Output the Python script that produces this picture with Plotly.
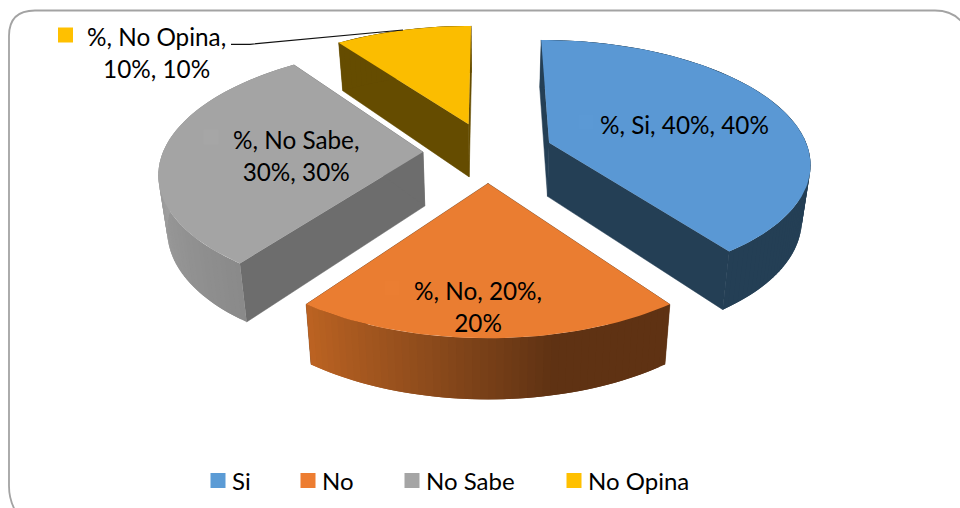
import math
import plotly.graph_objects as go

# ---- data ----
categories = ["Si", "No", "No Sabe", "No Opina"]
values = [40, 20, 30, 10]
legend_colors = ["#5B9BD5", "#ED7D31", "#A5A5A5", "#FFC000"]
top_colors = ["#5A98D4", "#EA7D31", "#A4A4A4", "#FBBD00"]
side_stops = [["#243F55", "#243F55"],
              ["#BC6322", "#8F4C1C", "#5F3213", "#5F3213"],
              ["#8A8A8A", "#A0A0A0", "#949494"],
              ["#654C00", "#654C00"]]
face_colors = ["#243F55", "#5F3213", "#6D6D6D", "#654C00"]
label_lines = ["%, Si, 40%, 40%", "%, No, 20%,<br>20%", "%, No Sabe,<br>30%, 30%", "%, No Opina,<br>10%, 10%"]

# ---- projection of the tilted pie ----
CX, CY, R, EXPLODE = 488, 152, 260, 65
TILT, PERSP = 0.465, 5.8e-4
FONT = "Lato"


def top_pt(u, v):
    s = 1 / (1 - PERSP * v)
    return CX + u * s, CY + TILT * v * s


def bottom_pt(u, v):
    x, y = top_pt(u, v)
    return CX + (x - CX) * 0.973, y + 54 + 0.022 * v


def hex_rgb(c):
    return [int(c[i:i + 2], 16) for i in (1, 3, 5)]


def mix(stops, t):
    p = t * (len(stops) - 1)
    i = min(int(p), len(stops) - 2)
    a, b = hex_rgb(stops[i]), hex_rgb(stops[i + 1])
    f = p - i
    return "rgb(%d,%d,%d)" % tuple(round(a[k] + (b[k] - a[k]) * f) for k in range(3))


fig = go.Figure()


def poly(pts, color, lw=0):
    fig.add_trace(go.Scatter(
        x=[p[0] for p in pts] + [pts[0][0]], y=[p[1] for p in pts] + [pts[0][1]],
        mode="lines", fill="toself", fillcolor=color,
        line=dict(color=color, width=lw), hoverinfo="skip", showlegend=False))


total = sum(values)
spans = {}
start = 0.0
for i, val in enumerate(values):
    spans[i] = (start, start + val / total * 2 * math.pi)
    start = spans[i][1]

# painter's order: far slices first
for i in [2, 3, 0, 1]:
    a0, a1 = spans[i]
    mid = (a0 + a1) / 2
    ou, ov = EXPLODE * math.sin(mid), -EXPLODE * math.cos(mid)
    n = max(12, int((a1 - a0) * 40))
    rim = [(ou + R * math.sin(a0 + (a1 - a0) * k / n), ov - R * math.cos(a0 + (a1 - a0) * k / n))
           for k in range(n + 1)]
    top_rim = [top_pt(*p) for p in rim]
    bot_rim = [bottom_pt(*p) for p in rim]
    # radial side faces
    poly([top_pt(ou, ov), top_rim[0], bot_rim[0], bottom_pt(ou, ov)], face_colors[i], 0.5)
    poly([top_pt(ou, ov), top_rim[-1], bot_rim[-1], bottom_pt(ou, ov)], face_colors[i], 0.5)
    # curved outer side, as overlapping strips so that no seams show
    for k in range(n):
        t = (k + 0.5) / n
        if i == 1:
            t = 1 - t
        e = min(k + 2, n)
        poly(top_rim[k:e + 1] + bot_rim[k:e + 1][::-1], mix(side_stops[i], t))
    # top face
    poly([top_pt(ou, ov)] + top_rim, top_colors[i])

# legend: one real legend per entry so each can sit where the reference has it
legend_x = [211, 301, 405, 567]
layout_legends = {}
for i, name in enumerate(categories):
    key = "legend" if i == 0 else f"legend{i + 1}"
    fig.add_trace(go.Scatter(x=[None], y=[None], mode="markers", name=name,
                             marker=dict(symbol="square", size=15, color=legend_colors[i]),
                             legend=key, showlegend=True))
    layout_legends[key] = dict(x=(legend_x[i] - 19) / 960, y=1 - 481 / 508, xanchor="left", yanchor="middle",
                               font=dict(family=FONT, size=24, color="#000000"),
                               bgcolor="rgba(0,0,0,0)", itemwidth=30, tracegroupgap=0)

label_pos = [(684, 124), (478, 306), (296, 155), (156, 52)]
annotations = [dict(x=x, y=y, xref="x", yref="y", text=t, showarrow=False,
                    font=dict(family=FONT, size=24.3, color="#000000"), align="center")
               for (x, y), t in zip(label_pos, label_lines)]

swatches = [(586, 122, "#5B99D5"), (392, 288, "#EB7E32"), (211, 137, "#A6A6A6"), (65.5, 35, "#FFC000")]
shapes = [dict(type="rect", x0=x - 7.5, x1=x + 7.5, y0=y - 7.5, y1=y + 7.5, xref="x", yref="y",
               fillcolor=c, line=dict(width=0), layer="above") for x, y, c in swatches]
# frame with rounded corners, running off the page at right and bottom
shapes.insert(0, dict(type="path", xref="x", yref="y", layer="below",
                      path="M 16,512 Q 9,500 9,486 L 9,36 Q 9,10.5 35,10.5 L 935,10.5 Q 952,10.5 962,22",
                      line=dict(color="#A3A3A3", width=1.8)))
# leader line
shapes.append(dict(type="path", xref="x", yref="y", layer="above", path="M 231,44.3 L 250,44.3 L 403,30",
                   line=dict(color="#111111", width=1.2)))

fig.update_layout(
    width=960, height=508, margin=dict(l=0, r=0, t=0, b=0),
    paper_bgcolor="white", plot_bgcolor="white",
    xaxis=dict(range=[0, 960], visible=False, fixedrange=True),
    yaxis=dict(range=[508, 0], visible=False, fixedrange=True),
    annotations=annotations, shapes=shapes, hovermode=False,
    **layout_legends)

# body margin off; nudge the legend swatches closer to their text, as in the reference
post = """
document.body.style.margin='0';
function nudge(){document.querySelectorAll('.legendsymbols').forEach(function(g){g.setAttribute('transform','translate(6,0)');});}
nudge(); setTimeout(nudge,30); setTimeout(nudge,300);
"""
fig.write_html("out.html", config={"displayModeBar": False}, post_script=post)
